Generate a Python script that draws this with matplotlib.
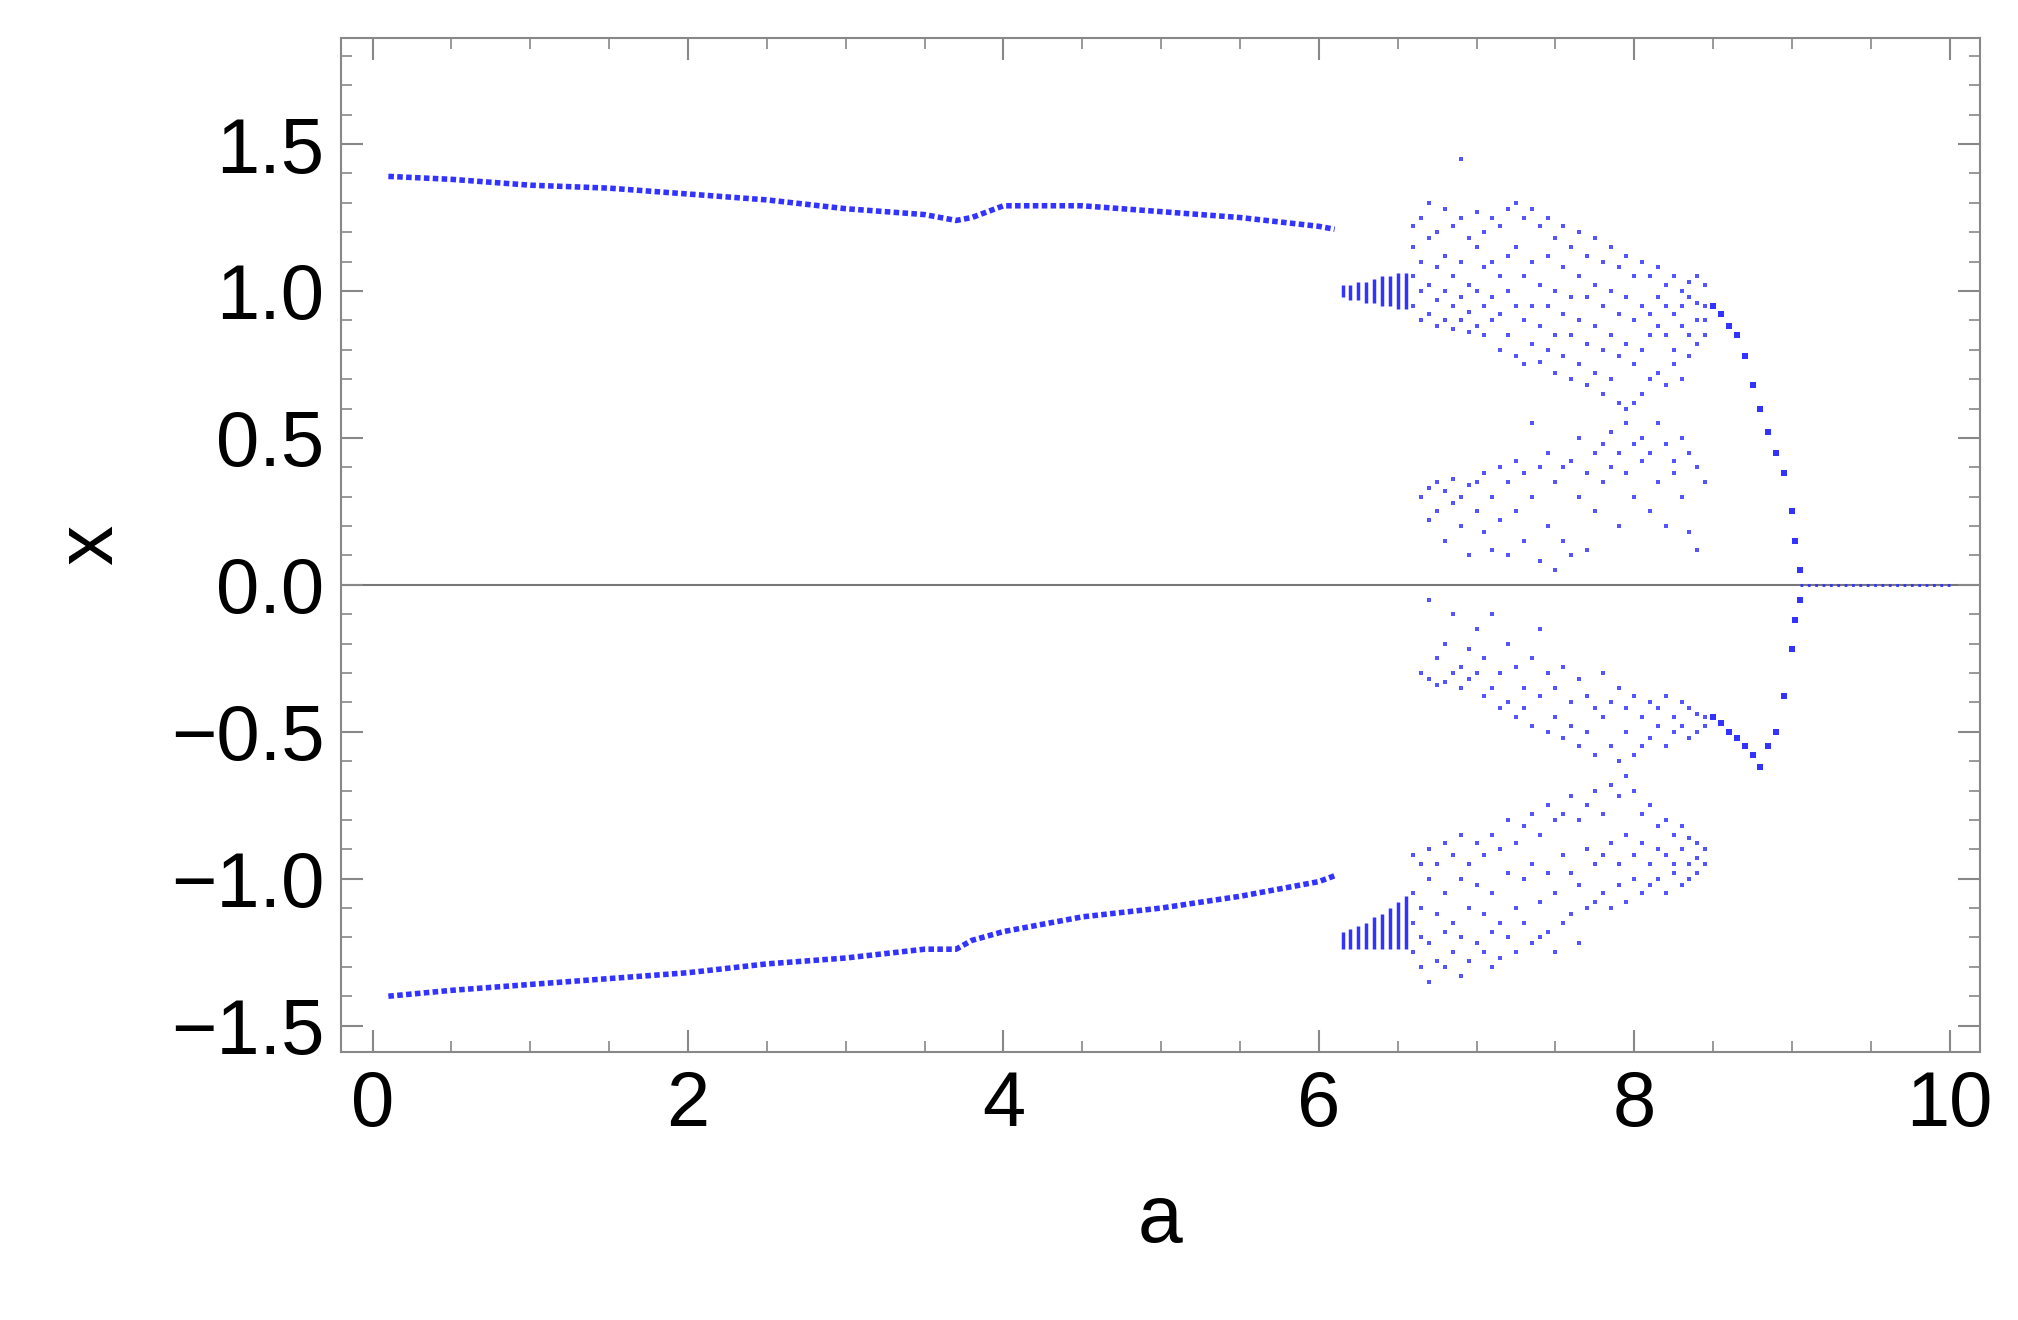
import matplotlib
matplotlib.use("Agg")
import matplotlib.pyplot as plt
from matplotlib.ticker import MultipleLocator

plt.rcParams['font.family'] = ['Liberation Sans', 'DejaVu Sans']

# stable period-2 branches
branch_a = [0.1, 0.5, 1.0, 1.5, 2.0, 2.5, 3.0, 3.5, 3.7, 3.8, 4.0, 4.5, 5.0, 5.5, 6.0, 6.1]
branch_up = [1.39, 1.38, 1.36, 1.35, 1.33, 1.31, 1.28, 1.26, 1.24, 1.25, 1.29, 1.29, 1.27, 1.25, 1.22, 1.21]
branch_lo = [-1.40, -1.38, -1.36, -1.34, -1.32, -1.29, -1.27, -1.24, -1.24, -1.21, -1.18, -1.13, -1.10, -1.06, -1.01, -0.99]

# narrow bands just after a = 6.1
band_a = [6.15, 6.20, 6.25, 6.30, 6.35, 6.40, 6.45, 6.50, 6.55]
band_up_lo = [0.98, 0.97, 0.97, 0.96, 0.96, 0.95, 0.95, 0.94, 0.94]
band_up_hi = [1.02, 1.02, 1.03, 1.03, 1.04, 1.05, 1.05, 1.06, 1.06]
band_lo_lo = [-1.24, -1.24, -1.24, -1.24, -1.24, -1.24, -1.24, -1.24, -1.24]
band_lo_hi = [-1.18, -1.17, -1.16, -1.15, -1.13, -1.12, -1.10, -1.08, -1.06]

# chaotic region
chaos_a = [6.60, 6.65, 6.70, 6.75, 6.80, 6.85, 6.90, 6.95, 7.00, 7.05, 7.10, 7.15, 7.20,
           7.25, 7.30, 7.35, 7.40, 7.45, 7.50, 7.55, 7.60, 7.65, 7.70, 7.75, 7.80, 7.85,
           7.90, 7.95, 8.00, 8.05, 8.10, 8.15, 8.20, 8.25, 8.30, 8.35, 8.40, 8.45]
chaos_x = [
    [1.22, 1.15, 1.05, 0.95, -0.92, -1.05, -1.15, -1.25],
    [1.25, 1.10, 1.00, 0.90, 0.30, -0.30, -0.95, -1.10, -1.20, -1.30],
    [1.30, 1.18, 1.02, 0.92, 0.33, 0.22, -0.05, -0.32, -0.90, -1.00, -1.22, -1.35],
    [1.20, 1.08, 0.97, 0.88, 0.35, 0.25, -0.25, -0.34, -0.95, -1.12, -1.28],
    [1.28, 1.12, 1.00, 0.90, 0.32, 0.15, -0.20, -0.33, -0.88, -1.05, -1.18, -1.30],
    [1.22, 1.05, 0.95, 0.87, 0.36, 0.28, -0.30, -0.10, -0.92, -1.15, -1.25],
    [1.45, 1.25, 1.10, 0.98, 0.90, 0.30, 0.20, -0.28, -0.35, -0.85, -1.00, -1.20, -1.33],
    [1.18, 1.02, 0.93, 0.86, 0.34, 0.10, -0.22, -0.32, -0.95, -1.10, -1.28],
    [1.27, 1.15, 1.00, 0.88, 0.25, 0.35, -0.15, -0.30, -0.88, -1.02, -1.22],
    [1.20, 1.08, 0.95, 0.85, 0.38, 0.18, -0.25, -0.38, -0.92, -1.12, -1.25],
    [1.25, 1.10, 0.98, 0.90, 0.30, 0.12, -0.10, -0.35, -0.85, -1.05, -1.18, -1.30],
    [1.22, 1.05, 0.92, 0.80, 0.40, 0.22, -0.30, -0.42, -0.90, -1.15, -1.27],
    [1.28, 1.12, 1.00, 0.85, 0.35, 0.10, -0.20, -0.40, -0.80, -0.98, -1.20],
    [1.30, 1.15, 0.95, 0.78, 0.42, 0.25, -0.28, -0.45, -0.88, -1.10, -1.25],
    [1.25, 1.05, 0.90, 0.75, 0.38, 0.15, -0.35, -0.42, -0.82, -1.00, -1.15],
    [1.28, 1.10, 0.95, 0.82, 0.55, 0.30, -0.25, -0.48, -0.78, -0.95, -1.22],
    [1.22, 1.02, 0.88, 0.76, 0.40, 0.08, -0.15, -0.38, -0.85, -1.08, -1.20],
    [1.25, 1.12, 0.95, 0.80, 0.45, 0.20, -0.30, -0.50, -0.75, -0.98, -1.18],
    [1.18, 1.00, 0.85, 0.72, 0.35, 0.05, -0.35, -0.45, -0.80, -1.05, -1.25],
    [1.22, 1.08, 0.92, 0.78, 0.40, 0.15, -0.28, -0.52, -0.78, -0.92, -1.15],
    [1.15, 0.98, 0.85, 0.70, 0.42, 0.10, -0.40, -0.48, -0.72, -0.98, -1.12],
    [1.20, 1.05, 0.90, 0.75, 0.50, 0.30, -0.32, -0.55, -0.80, -1.02, -1.22],
    [1.12, 0.98, 0.82, 0.68, 0.38, 0.12, -0.38, -0.50, -0.75, -0.90, -1.10],
    [1.18, 1.02, 0.88, 0.72, 0.45, 0.25, -0.42, -0.58, -0.70, -0.95, -1.08],
    [1.10, 0.95, 0.80, 0.65, 0.48, 0.35, -0.30, -0.45, -0.78, -0.92, -1.05],
    [1.15, 1.00, 0.85, 0.70, 0.52, 0.40, -0.40, -0.55, -0.68, -0.88, -1.10],
    [1.08, 0.92, 0.78, 0.62, 0.45, 0.20, -0.35, -0.60, -0.72, -0.95, -1.02],
    [1.12, 0.98, 0.82, 0.60, 0.55, 0.38, -0.42, -0.50, -0.65, -0.85, -1.08],
    [1.05, 0.90, 0.75, 0.62, 0.48, 0.30, -0.38, -0.58, -0.70, -0.92, -1.00],
    [1.10, 0.95, 0.80, 0.65, 0.50, 0.42, -0.45, -0.55, -0.78, -0.88, -1.05],
    [1.05, 0.92, 0.85, 0.70, 0.45, 0.25, -0.40, -0.52, -0.75, -0.95, -1.02],
    [1.08, 0.98, 0.88, 0.72, 0.55, 0.35, -0.42, -0.48, -0.82, -0.90, -1.00],
    [1.02, 0.95, 0.85, 0.68, 0.48, 0.20, -0.38, -0.55, -0.80, -0.92, -1.05],
    [1.05, 0.92, 0.80, 0.75, 0.42, 0.38, -0.45, -0.50, -0.85, -0.95, -0.98],
    [1.00, 0.95, 0.88, 0.70, 0.50, 0.30, -0.40, -0.48, -0.82, -0.90, -1.02],
    [1.03, 0.98, 0.85, 0.78, 0.45, 0.18, -0.42, -0.52, -0.86, -0.95, -1.00],
    [1.05, 0.96, 0.90, 0.82, 0.40, 0.12, -0.44, -0.50, -0.88, -0.93, -0.98],
    [1.02, 0.95, 0.90, 0.85, 0.35, -0.45, -0.48, -0.90, -0.95],
]

# collapse toward zero
tail_a = [8.50, 8.55, 8.60, 8.65, 8.70, 8.75, 8.80, 8.85, 8.90, 8.95, 9.00, 9.02, 9.05]
tail_up = [0.95, 0.92, 0.88, 0.85, 0.78, 0.68, 0.60, 0.52, 0.45, 0.38, 0.25, 0.15, 0.05]
tail_lo = [-0.45, -0.47, -0.50, -0.52, -0.55, -0.58, -0.62, -0.55, -0.50, -0.38, -0.22, -0.12, -0.05]
zero_a = [9.05, 10.0]
zero_x = [0.0, 0.0]

blue = "#3333ff"
fig = plt.figure(figsize=(20.18, 13.2), dpi=100)
ax = fig.add_axes([0.169, 0.203, 0.812, 0.768])

ax.axhline(0, color="#777777", lw=1.5, zorder=1)
ax.plot(branch_a, branch_up, color=blue, lw=4, ls=(0, (1, 0.6)))
ax.plot(branch_a, branch_lo, color=blue, lw=4, ls=(0, (1, 0.6)))
ax.vlines(band_a, band_up_lo, band_up_hi, color=blue, lw=2.5)
ax.vlines(band_a, band_lo_lo, band_lo_hi, color=blue, lw=2.5)
for a, xs in zip(chaos_a, chaos_x):
    ax.plot([a] * len(xs), xs, ls="none", marker="s", ms=3.5, color="#5555ff", mew=0)
ax.plot(tail_a, tail_up, ls="none", marker="s", ms=4, color=blue, mew=0)
ax.plot(tail_a, tail_lo, ls="none", marker="s", ms=4, color=blue, mew=0)
ax.plot(zero_a, zero_x, color=blue, lw=2, ls=":")

ax.set_xlim(-0.2, 10.19)
ax.set_ylim(-1.59, 1.86)
ax.xaxis.set_major_locator(MultipleLocator(2))
ax.xaxis.set_minor_locator(MultipleLocator(0.5))
ax.yaxis.set_major_locator(MultipleLocator(0.5))
ax.yaxis.set_minor_locator(MultipleLocator(0.1))
ax.tick_params(which="both", direction="in", top=True, right=True, color="#888888",
               labelsize=56, pad=12)
ax.tick_params(which="major", length=16, width=1.5)
ax.tick_params(which="minor", length=8, width=1.2)
for s in ax.spines.values():
    s.set_color("#888888")
    s.set_linewidth(1.5)
ax.set_xlabel("a", fontsize=58, labelpad=30)
ax.set_ylabel("x", fontsize=58, labelpad=30)

fig.savefig("out.png", dpi=100)
